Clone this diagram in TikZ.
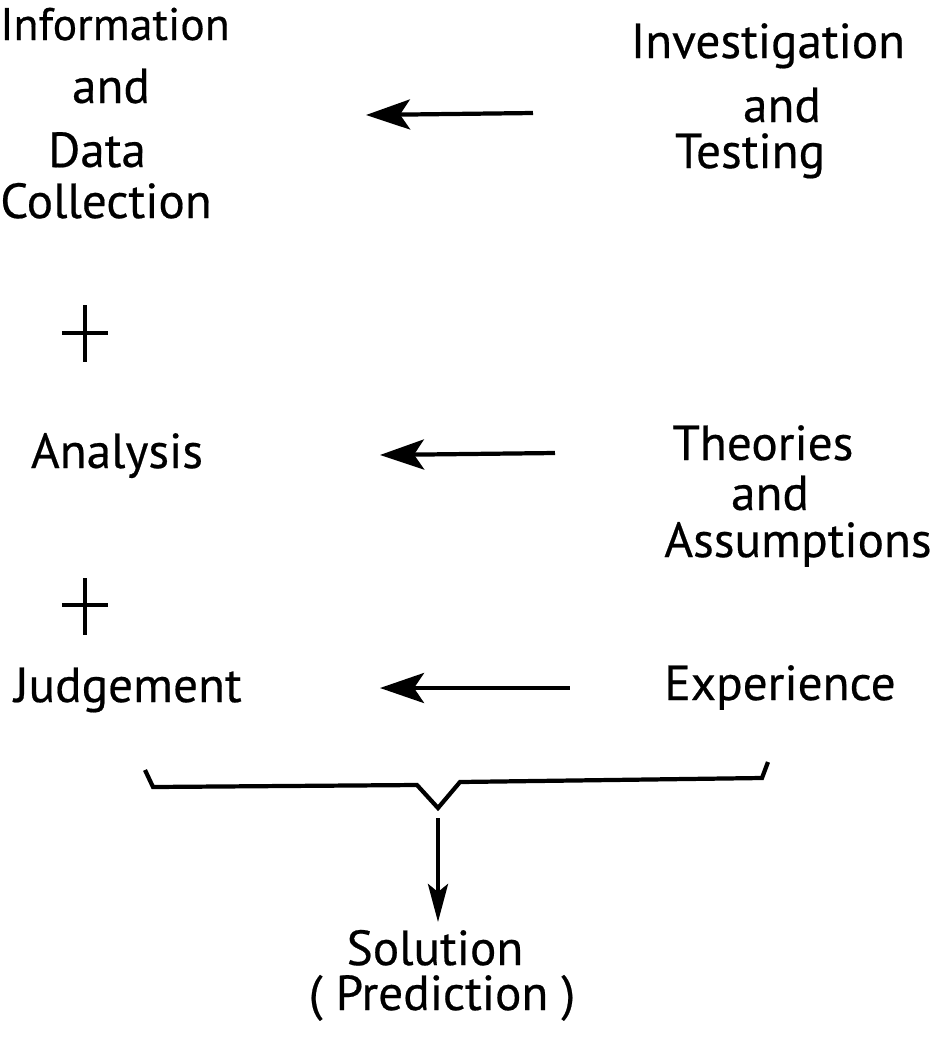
\documentclass[tikz,border=0pt]{standalone}
\usepackage{fontspec}
\setmainfont{PT Sans}
\newfontfamily\lettering[FakeBold=0.4]{PT Sans}
\usetikzlibrary{arrows.meta}
\tikzset{
  txt/.style={font=\lettering\fontsize{14}{16}\selectfont, inner sep=0pt, anchor=base},
  feed/.style={line width=1.2pt, -{Stealth[length=4.4mm, width=3mm, inset=1mm]}},
  bar/.style={line width=1.2pt}
}
\begin{document}
\begin{tikzpicture}[x=0.01cm, y=-0.01cm]
  \useasboundingbox (0,0) rectangle (939,1047);
  % left column
  \node[txt, font=\lettering\fontsize{13}{16}\selectfont] (info) at (115,40) {Information};
  \node[txt] (infoand) at (111,103) {and};
  \node[txt] (data) at (97,167) {Data};
  \node[txt] (coll) at (106,218) {Collection};
  \node[txt] (ana) at (117,468) {Analysis};
  \node[txt] (judg) at (128,702) {Judgement};
  % plus signs
  \draw[bar] (62,333) -- (108,333) (85,305) -- (85,362);
  \draw[bar] (62,605) -- (108,605) (85,578) -- (85,635);
  % right column
  \node[txt] (inv) at (768,58) {Investigation};
  \node[txt] (invand) at (782,122) {and};
  \node[txt] (test) at (750,168) {Testing};
  \node[txt] (theo) at (763,460) {Theories};
  \node[txt] (theoand) at (770,510) {and};
  \node[txt] (assu) at (798,557) {Assumptions};
  \node[txt] (expe) at (780,700) {Experience};
  % arrows
  \coordinate (a1s) at (533,113);
  \coordinate (a1e) at (366,115);
  \coordinate (a2s) at (555,453);
  \coordinate (a2e) at (380,455);
  \coordinate (a3s) at (570,688);
  \coordinate (a3e) at (380,688);
  \draw[feed] (a1s) -- (a1e);
  \draw[feed] (a2s) -- (a2e);
  \draw[feed] (a3s) -- (a3e);
  % brace
  \coordinate (tip) at (438,808);
  \draw[bar, line join=miter] (145,770) -- (153,787) -- (417,785) -- (tip)
    -- (460,782) -- (762,778) -- (768,762);
  \node[txt] (sol) at (435,965) {Solution};
  \node[txt] (pred) at (442,1010) {( Prediction )};
  \coordinate (dn) at (438,818);
  \coordinate (up) at (438,922);
  \draw[line width=1.2pt, -{Stealth[length=3.8mm, width=2mm, inset=0.8mm]}]
    (dn) -- (up);
\end{tikzpicture}
\end{document}
